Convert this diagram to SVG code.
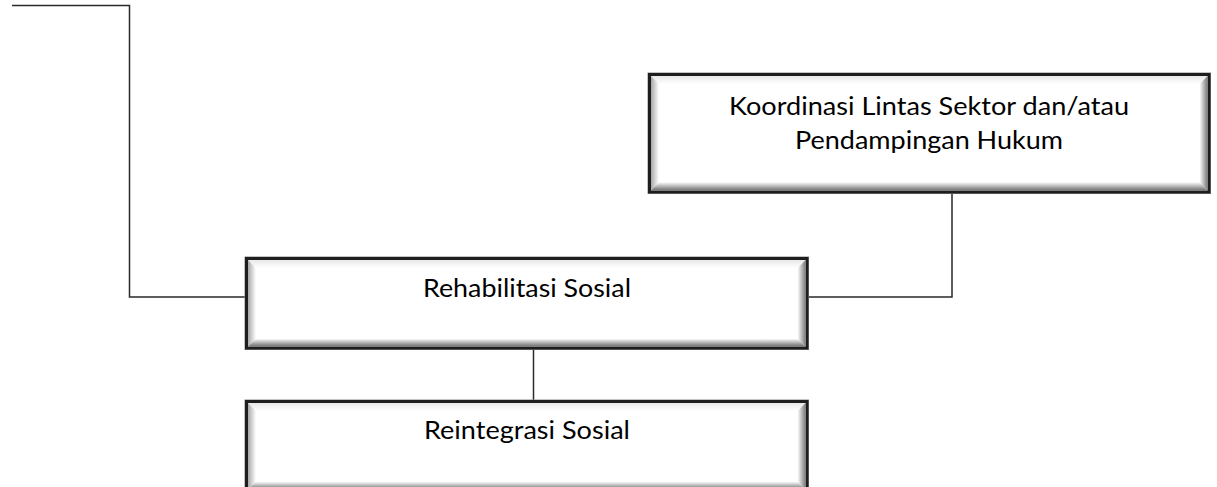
<svg xmlns="http://www.w3.org/2000/svg" width="1217" height="487" viewBox="0 0 1217 487">
  <style>
    .frame { fill: #ffffff; stroke: #1e1e1e; stroke-width: 3; }
    .halo { fill: none; stroke: #8a8a8a; stroke-width: 1; }
    .label { font-family: Lato, "Open Sans", "Liberation Sans", sans-serif; font-size: 25px; fill: #000000; text-anchor: middle; }
    .conn { fill: none; stroke: #2a2a2a; stroke-width: 1.5; }
  </style>
  <defs>
    <linearGradient id="gT" x1="0" y1="0" x2="0" y2="1">
      <stop offset="0" stop-color="#e8e8e8"/>
      <stop offset="1" stop-color="#ffffff"/>
    </linearGradient>
    <linearGradient id="gL" x1="0" y1="0" x2="1" y2="0">
      <stop offset="0" stop-color="#a8a8a8"/>
      <stop offset="1" stop-color="#ffffff"/>
    </linearGradient>
    <linearGradient id="gR" x1="1" y1="0" x2="0" y2="0">
      <stop offset="0" stop-color="#7a7a7a"/>
      <stop offset="1" stop-color="#ffffff"/>
    </linearGradient>
    <linearGradient id="gB" x1="0" y1="1" x2="0" y2="0">
      <stop offset="0" stop-color="#6e6e6e"/>
      <stop offset="1" stop-color="#ffffff"/>
    </linearGradient>
  </defs>

  <g id="connectors">
    <path class="conn" d="M12,5.5 H129.5 V297 H245"/>
    <path class="conn" d="M808,297 H952 V193"/>
    <path class="conn" d="M533.5,349 V400"/>
  </g>

  <g id="node-koordinasi">
    <rect class="halo" x="648" y="73" width="562.5" height="120.5"/>
    <rect class="frame" x="649.5" y="74.5" width="559.5" height="117.5"/>
    <polygon fill="url(#gT)" points="651,76 1207.5,76 1199.5,84 659,84"/>
    <polygon fill="url(#gL)" points="651,76 659,84 659,182 651,190.5"/>
    <polygon fill="url(#gR)" points="1207.5,76 1207.5,190.5 1199.5,182 1199.5,84"/>
    <polygon fill="url(#gB)" points="651,190.5 1207.5,190.5 1199.5,182 659,182"/>
    <text class="label" x="929" y="115" textLength="400" lengthAdjust="spacingAndGlyphs">Koordinasi Lintas Sektor dan/atau</text>
    <text class="label" x="929" y="149" textLength="268" lengthAdjust="spacingAndGlyphs">Pendampingan Hukum</text>
  </g>

  <g id="node-rehabilitasi">
    <rect class="halo" x="245" y="257" width="563.5" height="92.5"/>
    <rect class="frame" x="246.5" y="258.5" width="560.5" height="89.5"/>
    <polygon fill="url(#gT)" points="248,260 805.5,260 797.5,268 256,268"/>
    <polygon fill="url(#gL)" points="248,260 256,268 256,338.5 248,346.5"/>
    <polygon fill="url(#gR)" points="805.5,260 805.5,346.5 797.5,338.5 797.5,268"/>
    <polygon fill="url(#gB)" points="248,346.5 805.5,346.5 797.5,338.5 256,338.5"/>
    <text class="label" x="527" y="297" textLength="208" lengthAdjust="spacingAndGlyphs">Rehabilitasi Sosial</text>
  </g>

  <g id="node-reintegrasi">
    <rect class="halo" x="245" y="400" width="563.5" height="92.5"/>
    <rect class="frame" x="246.5" y="401.5" width="560.5" height="89.5"/>
    <polygon fill="url(#gT)" points="248,403 805.5,403 797.5,411 256,411"/>
    <polygon fill="url(#gL)" points="248,403 256,411 256,481.5 248,489.5"/>
    <polygon fill="url(#gR)" points="805.5,403 805.5,489.5 797.5,481.5 797.5,411"/>
    <polygon fill="url(#gB)" points="248,489.5 805.5,489.5 797.5,481.5 256,481.5"/>
    <text class="label" x="527" y="439" textLength="206" lengthAdjust="spacingAndGlyphs">Reintegrasi Sosial</text>
  </g>
</svg>
